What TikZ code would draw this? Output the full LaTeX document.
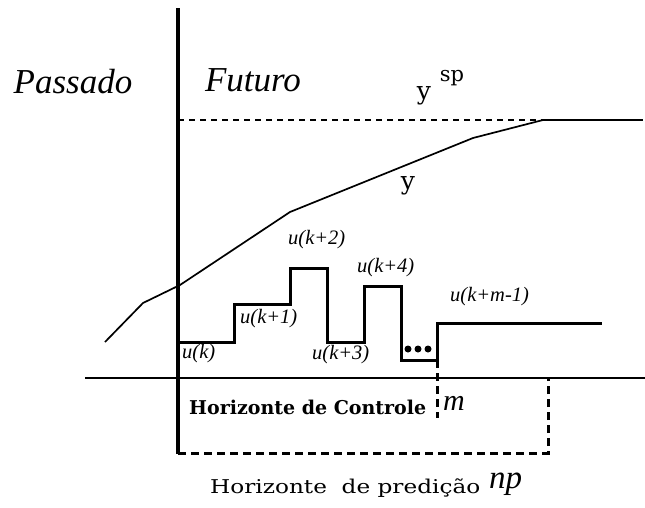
\documentclass[tikz,border=0pt]{standalone}
\usepackage{fontspec}
\setmainfont{Liberation Serif}
\newfontfamily\dvs{DejaVu Serif}
\newfontfamily\dvsw[FakeStretch=1.22]{DejaVu Serif}
\newcommand{\fs}[1]{\fontsize{#1}{#1}\selectfont}
\tikzset{
  axisline/.style={line width=3.3pt},
  baseline/.style={line width=1.6pt},
  spline/.style={line width=1.3pt, dash pattern=on 6pt off 5pt},
  yline/.style={line width=1.7pt},
  uline/.style={line width=3pt},
  boxline/.style={line width=3pt, dash pattern=on 8pt off 5pt},
  ulab/.style={inner sep=0pt, font=\fs{20.5}\itshape},
  dotc/.style={circle, fill=black, inner sep=0pt, minimum size=7pt},
}
\begin{document}
\begin{tikzpicture}[x=1pt,y=-1pt]
\useasboundingbox[fill=white] (0,0) rectangle (645,507);
% axes
\coordinate (vt) at (178,8);
\coordinate (vb) at (178,454);
\coordinate (hl) at (85,378);
\coordinate (hr) at (645,378);
\draw[baseline] (hl) -- (hr);
\draw[axisline] (vt) -- (vb);
% setpoint
\coordinate (sp0) at (178,120);
\coordinate (sp1) at (543,120);
\coordinate (sp2) at (643,120);
\draw[spline] (sp0) -- (sp1);
\draw[line width=1.6pt] (sp1) -- (sp2);
% output y
\coordinate (y0) at (105,342);
\coordinate (y1) at (143,303);
\coordinate (y2) at (180,285);
\coordinate (y3) at (290,212);
\coordinate (y4) at (473,138);
\draw[yline, line join=round] (y0) -- (y1) -- (y2) -- (y3) -- (y4) -- (sp1);
% control steps
\coordinate (u0) at (180,342);
\coordinate (u1) at (234,304);
\coordinate (u2) at (290,268);
\coordinate (u3) at (327,342);
\coordinate (u4) at (364,286);
\coordinate (u5) at (401,360);
\coordinate (u6) at (437,323);
\coordinate (u7) at (602,323);
\draw[uline] (u0) -| (u1) -| (u2) -| (u3) -| (u4) -| (u5) -| (u6) -- (u7);
\node[dotc] (d1) at (408,349) {};
\node[dotc] (d2) at (418,349) {};
\node[dotc] (d3) at (428,349) {};
% horizons
\coordinate (m0) at (437,360);
\coordinate (m1) at (437,418);
\draw[boxline] (m0) -- (m1);
\coordinate (b0) at (178,453);
\coordinate (b1) at (548,453);
\coordinate (b2) at (548,378);
\draw[boxline] (b0) -- (b1) -- (b2);
% texts
\node[font=\fs{35}\itshape] (pas) at (73,82) {Passado};
\node[font=\fs{35}\itshape] (fut) at (253,80) {Futuro};
\node[font=\dvs\fs{25}, inner sep=0pt] (ysp) at (424,96) {y};
\node[font=\dvs\fs{21}, inner sep=0pt] (sp) at (452,78) {sp};
\node[font=\dvs\fs{25}, inner sep=0pt] (ylab) at (408,186) {y};
\node[ulab, anchor=west] (lk) at (182,354) {u(k)};
\node[ulab, anchor=west] (lk1) at (240,319) {u(k+1)};
\node[ulab, anchor=west] (lk2) at (288,240) {u(k+2)};
\node[ulab, anchor=west] (lk3) at (312,355) {u(k+3)};
\node[ulab, anchor=west] (lk4) at (357,268) {u(k+4)};
\node[ulab, anchor=west] (lkm) at (450,297) {u(k+m-1)};
\node[font=\dvs\bfseries\fs{19}, inner sep=0pt, anchor=west] (hc) at (189,407) {Horizonte de Controle};
\node[font=\fs{30}\itshape, inner sep=0pt, anchor=west] (mm) at (443,403) {m};
\node[font=\dvsw\fs{19}, inner sep=0pt, anchor=west] (hp) at (210,488) {Horizonte~ de predição};
\node[font=\fs{33}\itshape, inner sep=0pt, anchor=west] (np) at (489,484) {np};
\end{tikzpicture}
\end{document}
